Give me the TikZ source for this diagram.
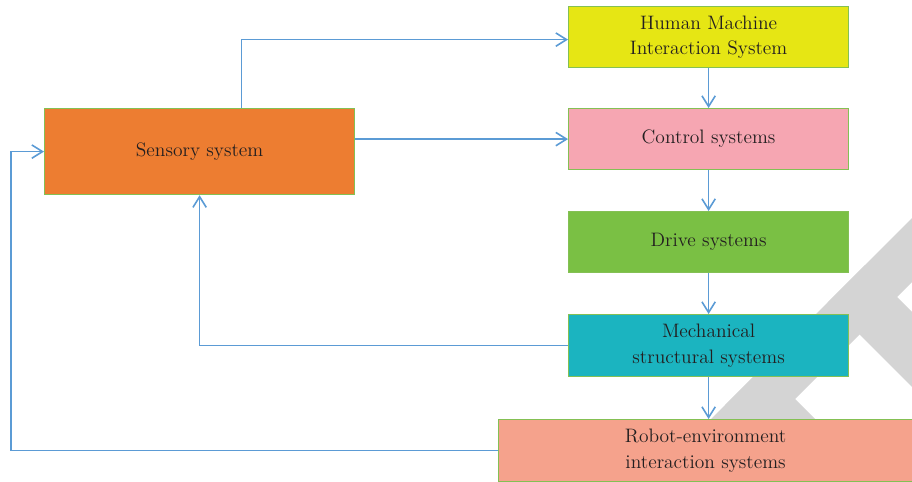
\documentclass[tikz,border=0pt]{standalone}
\usetikzlibrary{arrows.meta,calc}
\definecolor{arrblue}{RGB}{91,155,213}
\definecolor{bordergreen}{RGB}{132,192,84}
\definecolor{cOrange}{RGB}{237,125,49}
\definecolor{cYellow}{RGB}{230,230,20}
\definecolor{cPink}{RGB}{246,166,178}
\definecolor{cGreen}{RGB}{122,192,68}
\definecolor{cTeal}{RGB}{27,180,192}
\definecolor{cSalmon}{RGB}{245,162,140}
\definecolor{wmgrey}{RGB}{212,212,212}
\definecolor{txt}{RGB}{35,31,32}
\begin{document}
\begin{tikzpicture}[x=0.75pt,y=-0.75pt,
  box/.style={draw=bordergreen, line width=0.9pt, anchor=north west, inner sep=0pt,
    align=center, text=txt, font=\fontsize{14.6}{19.3}\selectfont},
  arr/.style={draw=arrblue, line width=1.2pt, -{Straight Barb[length=8pt,width=10pt]}}]
\useasboundingbox (0,0) rectangle (912,481);
% watermark shape
\begin{scope}
\clip (0,0) rectangle (912,481);
\fill[wmgrey] (1130,0) -- (1194,0) -- (724,470) -- (660,470) -- cycle;
\fill[wmgrey] (827.5,302.5) -- (865,265) -- (1200,600) -- (1125,600) -- cycle;
\fill[wmgrey] (763,367) -- (866,470) -- (790,470) -- (725,405) -- cycle;
\end{scope}
% boxes
\node[box, fill=cOrange, minimum width=232.5pt, minimum height=64.5pt] (sens) at (44,108) {Sensory system};
\node[box, fill=cYellow, minimum width=210pt, minimum height=45.75pt] (hmi) at (568,6) {Human Machine\\Interaction System};
\node[box, fill=cPink, minimum width=210pt, minimum height=45.75pt] (ctrl) at (568,108) {Control systems};
\node[box, fill=cGreen, minimum width=210pt, minimum height=45.75pt] (drive) at (568,211) {Drive systems};
\node[box, fill=cTeal, minimum width=210pt, minimum height=46.5pt] (mech) at (568,314) {Mechanical\\structural systems};
\node[box, fill=cSalmon, minimum width=310.5pt, minimum height=46.2pt] (robot) at (498,419) {Robot-environment\\interaction systems};
\coordinate (lft) at (11,0);
% connectors
\draw[arr] ($(sens.north)+(42,0)$) |- ($(hmi.west)+(0,2.5)$);
\draw[arr] (ctrl.west -| sens.east) -- (ctrl.west);
\draw[arr] (hmi.south) -- (ctrl.north);
\draw[arr] (ctrl.south) -- (drive.north);
\draw[arr] (drive.south) -- (mech.north);
\draw[arr] (mech.south) -- (robot.north -| mech.south);
\draw[arr] (mech.west) -| (sens.south);
\draw[arr] (robot.west) -- (robot.west -| lft) |- (sens.west);
\end{tikzpicture}
\end{document}
